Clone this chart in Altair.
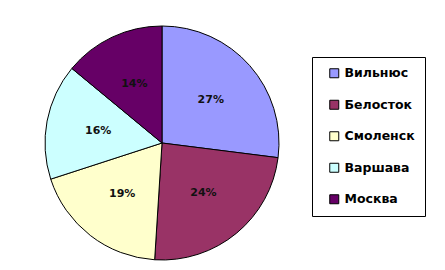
import altair as alt
import pandas as pd

cities = ["Вильнюс", "Белосток", "Смоленск", "Варшава", "Москва"]
shares = [27, 24, 19, 16, 14]
colors = ["#9999FF", "#993366", "#FFFFCC", "#CCFFFF", "#660066"]

df = pd.DataFrame({"city": cities, "share": shares, "idx": list(range(len(cities)))})

base = alt.Chart(df).encode(
    theta=alt.Theta("share:Q", stack=True),
    order=alt.Order("idx:Q"),
)

pie = base.mark_arc(outerRadius=117, stroke="black", strokeWidth=1, x=162, y=143).encode(
    color=alt.Color(
        "city:N",
        scale=alt.Scale(domain=cities, range=colors),
        legend=alt.Legend(
            title=None,
            orient="none",
            legendX=312,
            legendY=57,
            strokeColor="black",
            fillColor="white",
            padding=10,
            symbolType="square",
            symbolSize=81,
            symbolStrokeColor="black",
            symbolStrokeWidth=1,
            symbolOffset=6,
            labelOffset=4,
            labelFont="DejaVu Sans",
            labelFontWeight="bold",
            labelFontSize=12.5,
            labelColor="black",
            rowPadding=17.5,
        ),
    )
)

labels = base.transform_calculate(
    label="format(datum.share, 'd') + '%'"
).mark_text(
    radius=65, x=162, y=143, font="DejaVu Sans", fontWeight="bold", fontSize=11, color="#111111"
).encode(text=alt.Text("label:N"))

chart = alt.layer(pie, labels).properties(
    width=445, height=270, padding=0, autosize="none", background="white"
).configure_view(stroke=None)

chart.save("out.html", embed_options={"renderer": "svg", "actions": False})
